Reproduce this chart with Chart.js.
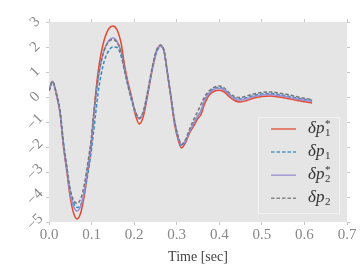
<!DOCTYPE html>
<html>
<head>
<meta charset="utf-8">
<script src="https://cdn.jsdelivr.net/npm/chart.js@4"></script>
<style>
  html, body { margin: 0; padding: 0; background: #fff; }
</style>
</head>
<body>
<canvas id="chart" width="363" height="273"></canvas>
<script>
// time axis [sec]
const times = [
  0, 0.008, 0.018, 0.026, 0.034, 0.042, 0.049, 0.057, 0.066, 0.075,
  0.083, 0.091, 0.099, 0.104, 0.110, 0.116, 0.123, 0.130, 0.140, 0.150,
  0.160, 0.170, 0.178, 0.186, 0.194, 0.203, 0.212, 0.222, 0.232, 0.242,
  0.252, 0.262, 0.270, 0.278, 0.286, 0.295, 0.304, 0.311, 0.320, 0.330,
  0.340, 0.350, 0.357, 0.365, 0.375, 0.387, 0.400, 0.412, 0.424, 0.436,
  0.449, 0.465, 0.480, 0.500, 0.520, 0.540, 0.560, 0.580, 0.600, 0.618
];

const dp1Star = [
  0.25, 0.63, 0.05, -0.64, -1.99, -2.99, -3.92, -4.6, -4.88, -4.6,
  -3.92, -2.99, -1.99, -0.9, 0.2, 1.08, 1.8, 2.3, 2.72, 2.84,
  2.68, 2.1, 1.2, 0.55, 0.0, -0.72, -1.08, -0.75, 0.1, 1.05,
  1.8, 2.06, 1.85, 0.95, 0.0, -1.1, -1.75, -2.04, -1.85, -1.45,
  -1.16, -0.85, -0.7, -0.3, 0.05, 0.22, 0.27, 0.2, 0.0, -0.14,
  -0.2, -0.14, -0.05, 0.02, 0.04, 0.0, -0.06, -0.13, -0.19, -0.24
];

const dp1 = [
  0.25, 0.6, 0.1, -0.55, -1.8, -2.8, -3.65, -4.2, -4.42, -4.3,
  -3.85, -3.1, -2.2, -1.5, -0.6, 0.25, 0.95, 1.45, 1.85, 2.0,
  1.98, 1.6, 1.0, 0.4, -0.15, -0.62, -0.85, -0.6, 0.15, 1.05,
  1.75, 2.02, 1.85, 1.0, 0.08, -1.0, -1.68, -1.95, -1.8, -1.42,
  -1.05, -0.75, -0.55, -0.12, 0.15, 0.33, 0.38, 0.3, 0.1, -0.04,
  -0.08, -0.03, 0.06, 0.12, 0.14, 0.1, 0.04, -0.03, -0.09, -0.13
];

const dp2Star = [
  0.25, 0.62, 0.05, -0.64, -1.95, -2.93, -3.8, -4.35, -4.56, -4.33,
  -3.75, -2.85, -1.85, -0.95, 0.0, 0.8, 1.45, 1.9, 2.25, 2.36,
  2.22, 1.78, 1.05, 0.45, -0.05, -0.6, -0.88, -0.6, 0.2, 1.1,
  1.8, 2.05, 1.85, 0.98, 0.05, -1.0, -1.65, -1.93, -1.78, -1.4,
  -1.05, -0.75, -0.55, -0.15, 0.12, 0.3, 0.35, 0.28, 0.08, -0.07,
  -0.12, -0.07, 0.02, 0.08, 0.1, 0.06, 0.0, -0.07, -0.13, -0.18
];

const dp2 = [
  0.25, 0.62, 0.08, -0.6, -1.9, -2.85, -3.65, -4.1, -4.25, -4.05,
  -3.5, -2.65, -1.7, -0.85, 0.1, 0.85, 1.45, 1.88, 2.2, 2.3,
  2.18, 1.75, 1.05, 0.45, -0.05, -0.58, -0.85, -0.55, 0.25, 1.15,
  1.85, 2.08, 1.88, 1.0, 0.08, -0.95, -1.6, -1.9, -1.72, -1.3,
  -0.9, -0.55, -0.3, 0.0, 0.22, 0.38, 0.44, 0.36, 0.16, 0.02,
  -0.02, 0.04, 0.12, 0.18, 0.2, 0.16, 0.1, 0.02, -0.05, -0.1
];

const seriesNames = ['dp1*', 'dp1', 'dp2*', 'dp2'];
const legendSubs = ['1', '1', '2', '2'];
const legendStars = [true, false, true, false];
const yTicks = [-5, -4, -3, -2, -1, 0, 1, 2, 3];
const xTicks = [0, 0.1, 0.2, 0.3, 0.4, 0.5, 0.6, 0.7];

const colors = ['#E24A33', '#348ABD', '#988ED5', '#777777'];
const dashes = [[], [3.5, 2], [], [3.5, 2]];

function toPoints(values) {
  return times.map((t, i) => ({ x: t, y: values[i] }));
}

const allSeries = [dp1Star, dp1, dp2Star, dp2];

const datasets = allSeries.map((vals, i) => ({
  label: seriesNames[i],
  data: toPoints(vals),
  borderColor: colors[i],
  borderWidth: 1.5,
  borderDash: dashes[i],
  pointRadius: 0,
  cubicInterpolationMode: 'monotone',
  fill: false,
  order: 4 - i
}));

const serif = '"Liberation Serif", "DejaVu Serif", serif';

// grey panel behind the lines
const panelPlugin = {
  id: 'panel',
  beforeDraw(chart) {
    const { ctx, chartArea: a } = chart;
    ctx.save();
    ctx.fillStyle = '#E5E5E5';
    ctx.fillRect(a.left, a.top, a.right - a.left, a.bottom - a.top);
    ctx.restore();
  }
};

// legend with sub/superscripts, drawn inside the panel
const mathLegendPlugin = {
  id: 'mathLegend',
  afterDraw(chart) {
    const { ctx, chartArea: a } = chart;
    const boxW = 82, boxH = 97;
    const bx = a.right - 7 - boxW;
    const by = a.bottom - 8 - boxH;
    ctx.save();
    ctx.fillStyle = '#E5E5E5';
    ctx.strokeStyle = '#F2F2F2';
    ctx.lineWidth = 1;
    ctx.fillRect(bx, by, boxW, boxH);
    ctx.strokeRect(bx + 0.5, by + 0.5, boxW - 1, boxH - 1);

    for (let i = 0; i < seriesNames.length; i++) {
      const y = by + 12 + i * 23.1;
      ctx.beginPath();
      ctx.setLineDash(dashes[i]);
      ctx.strokeStyle = colors[i];
      ctx.globalAlpha = 0.85;
      ctx.lineWidth = 1.5;
      ctx.moveTo(bx + 13, y);
      ctx.lineTo(bx + 38, y);
      ctx.stroke();
      ctx.globalAlpha = 1;
      ctx.setLineDash([]);

      const tx = bx + 50;
      ctx.fillStyle = '#333';
      ctx.textBaseline = 'alphabetic';
      ctx.textAlign = 'left';
      ctx.font = 'italic 17px ' + serif;
      ctx.fillText('\u03B4p', tx, y + 4);
      const w = ctx.measureText('\u03B4p').width;
      ctx.font = '11px ' + serif;
      ctx.fillText(legendSubs[i], tx + w + 0.5, y + 7);
      if (legendStars[i]) {
        ctx.fillText('*', tx + w + 0.5, y - 2);
      }
    }
    ctx.restore();
  }
};

const tickGrid = {
  display: true,
  drawOnChartArea: false,
  drawTicks: true,
  tickLength: 3,
  color: '#C8C8C8'
};

new Chart(document.getElementById('chart'), {
  type: 'line',
  data: { datasets },
  options: {
    responsive: false,
    animation: false,
    layout: { padding: 0 },
    plugins: {
      legend: { display: false },
      tooltip: { enabled: false }
    },
    scales: {
      x: {
        type: 'linear',
        position: 'bottom',
        min: 0,
        max: 0.7,
        afterBuildTicks: s => { s.ticks = xTicks.map(v => ({ value: v })); },
        afterFit: s => { s.height = 51; },
        grid: tickGrid,
        border: { display: false },
        ticks: {
          color: '#888',
          font: { family: serif, size: 15 },
          padding: 1,
          maxRotation: 0,
          autoSkip: false,
          callback: v => v.toFixed(1)
        },
        title: {
          display: true,
          text: 'Time [sec]',
          color: '#444',
          font: { family: serif, size: 14 },
          padding: { top: 0, bottom: 7 }
        }
      },
      x2: {
        type: 'linear',
        position: 'top',
        min: 0,
        max: 0.7,
        afterBuildTicks: s => { s.ticks = xTicks.map(v => ({ value: v })); },
        afterFit: s => { s.height = 22; },
        grid: tickGrid,
        border: { display: false },
        ticks: { display: false, autoSkip: false }
      },
      y: {
        type: 'linear',
        position: 'left',
        min: -5,
        max: 3,
        afterBuildTicks: s => { s.ticks = yTicks.map(v => ({ value: v })); },
        afterFit: s => { s.width = 49; },
        grid: tickGrid,
        border: { display: false },
        ticks: {
          color: '#888',
          font: { family: serif, size: 15 },
          padding: 3,
          minRotation: 45,
          maxRotation: 45,
          autoSkip: false,
          crossAlign: 'center',
          callback: v => (v < 0 ? '\u2212' + Math.abs(v) : String(v))
        }
      },
      y2: {
        type: 'linear',
        position: 'right',
        min: -5,
        max: 3,
        afterBuildTicks: s => { s.ticks = yTicks.map(v => ({ value: v })); },
        afterFit: s => { s.width = 16; },
        grid: tickGrid,
        border: { display: false },
        ticks: { display: false, autoSkip: false }
      }
    }
  },
  plugins: [panelPlugin, mathLegendPlugin]
});
</script>
</body>
</html>
